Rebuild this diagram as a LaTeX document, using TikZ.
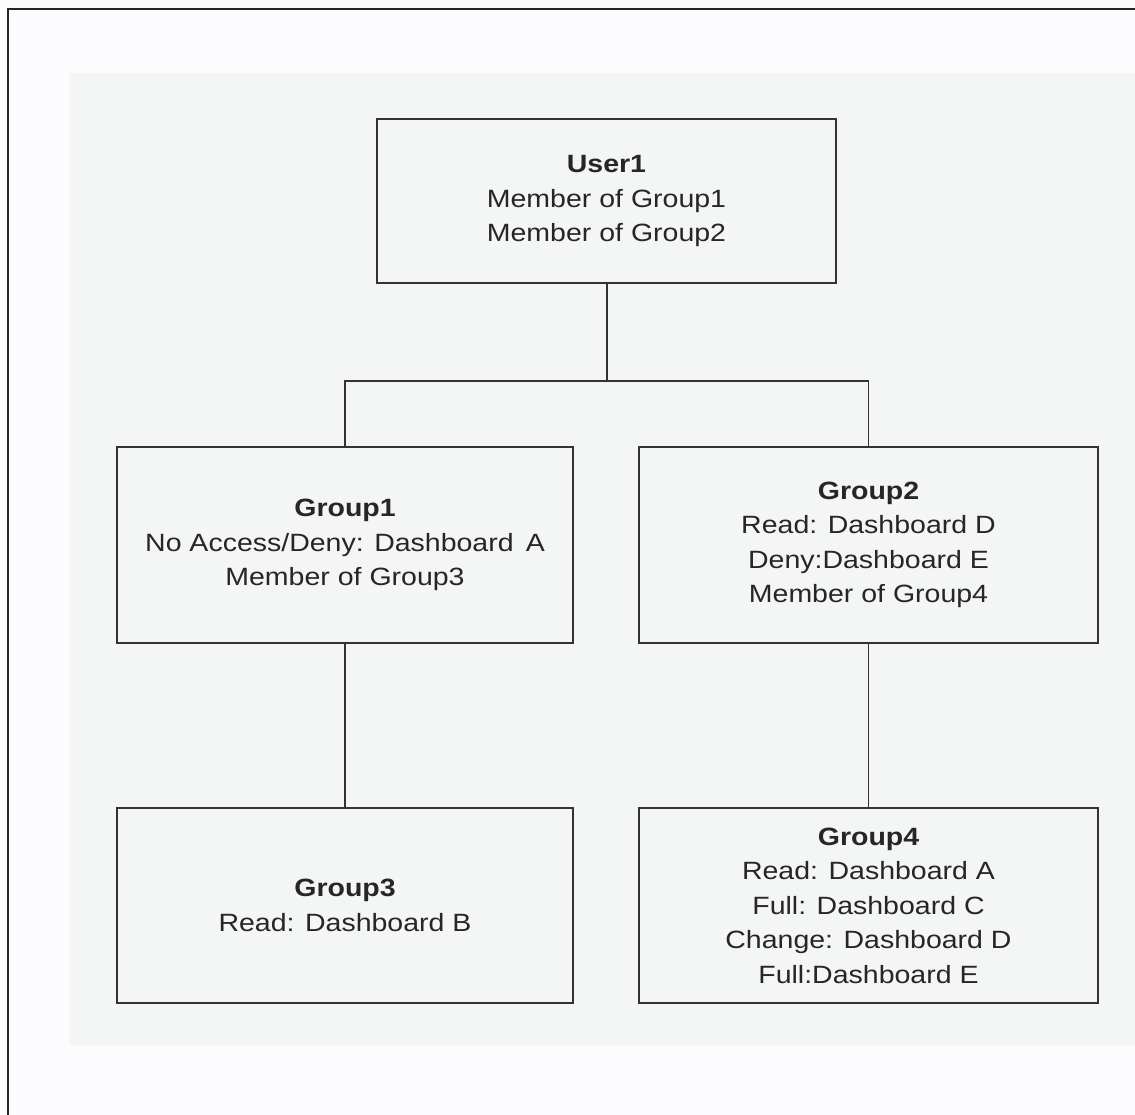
\documentclass[tikz,border=0pt]{standalone}
\usepackage{fontspec}
\setmainfont{Liberation Sans}[FakeStretch=1.14]
\definecolor{bgpanel}{HTML}{F4F5F5}
\definecolor{pagebg}{HTML}{FCFBFD}
\definecolor{linec}{HTML}{333333}
\definecolor{textc}{HTML}{262626}
\begin{document}
\begin{tikzpicture}[x=1pt,y=-1pt,
  box/.style={draw=linec,line width=1.6pt,fill=bgpanel,minimum width=#1,align=center,
    text=textc,font=\fontsize{25}{34.5}\selectfont,inner sep=0pt},
  conn/.style={draw=linec,line width=1.4pt}]
\useasboundingbox (0,0) rectangle (1135,1115);
\fill[pagebg] (0,0) rectangle (1135,1115);
\fill[bgpanel] (70,73) rectangle (1135,1045);
\draw[black!85,line width=2pt] (8,1120) -- (8,9) -- (1140,9);
% boxes
\node[box=459pt,minimum height=164pt] (u1) at (606.5,201) {\textbf{User1}\\Member of Group1\\Member of Group2};
\node[box=456pt,minimum height=196pt] (g1) at (345,545) {\textbf{Group1}\\No Access/Deny: Dashboard\, A\\Member of Group3};
\node[box=459pt,minimum height=196pt] (g2) at (868.5,545) {\textbf{Group2}\\Read: Dashboard D\\Deny:Dashboard E\\Member of Group4};
\node[box=456pt,minimum height=195pt] (g3) at (345,905.5) {\textbf{Group3}\\Read: Dashboard B};
\node[box=459pt,minimum height=195pt] (g4) at (868.5,905.5) {\textbf{Group4}\\Read: Dashboard A\\Full: Dashboard C\\Change: Dashboard D\\Full:Dashboard E};
% connectors
\coordinate (j) at (607,381);
\draw[conn] (u1.south -| j) -- (j);
\draw[conn] (g1.north) |- (j) -| (g2.north);
\draw[conn] (g1.south) -- (g3.north);
\draw[conn] (g2.south) -- (g4.north);
\end{tikzpicture}
\end{document}
